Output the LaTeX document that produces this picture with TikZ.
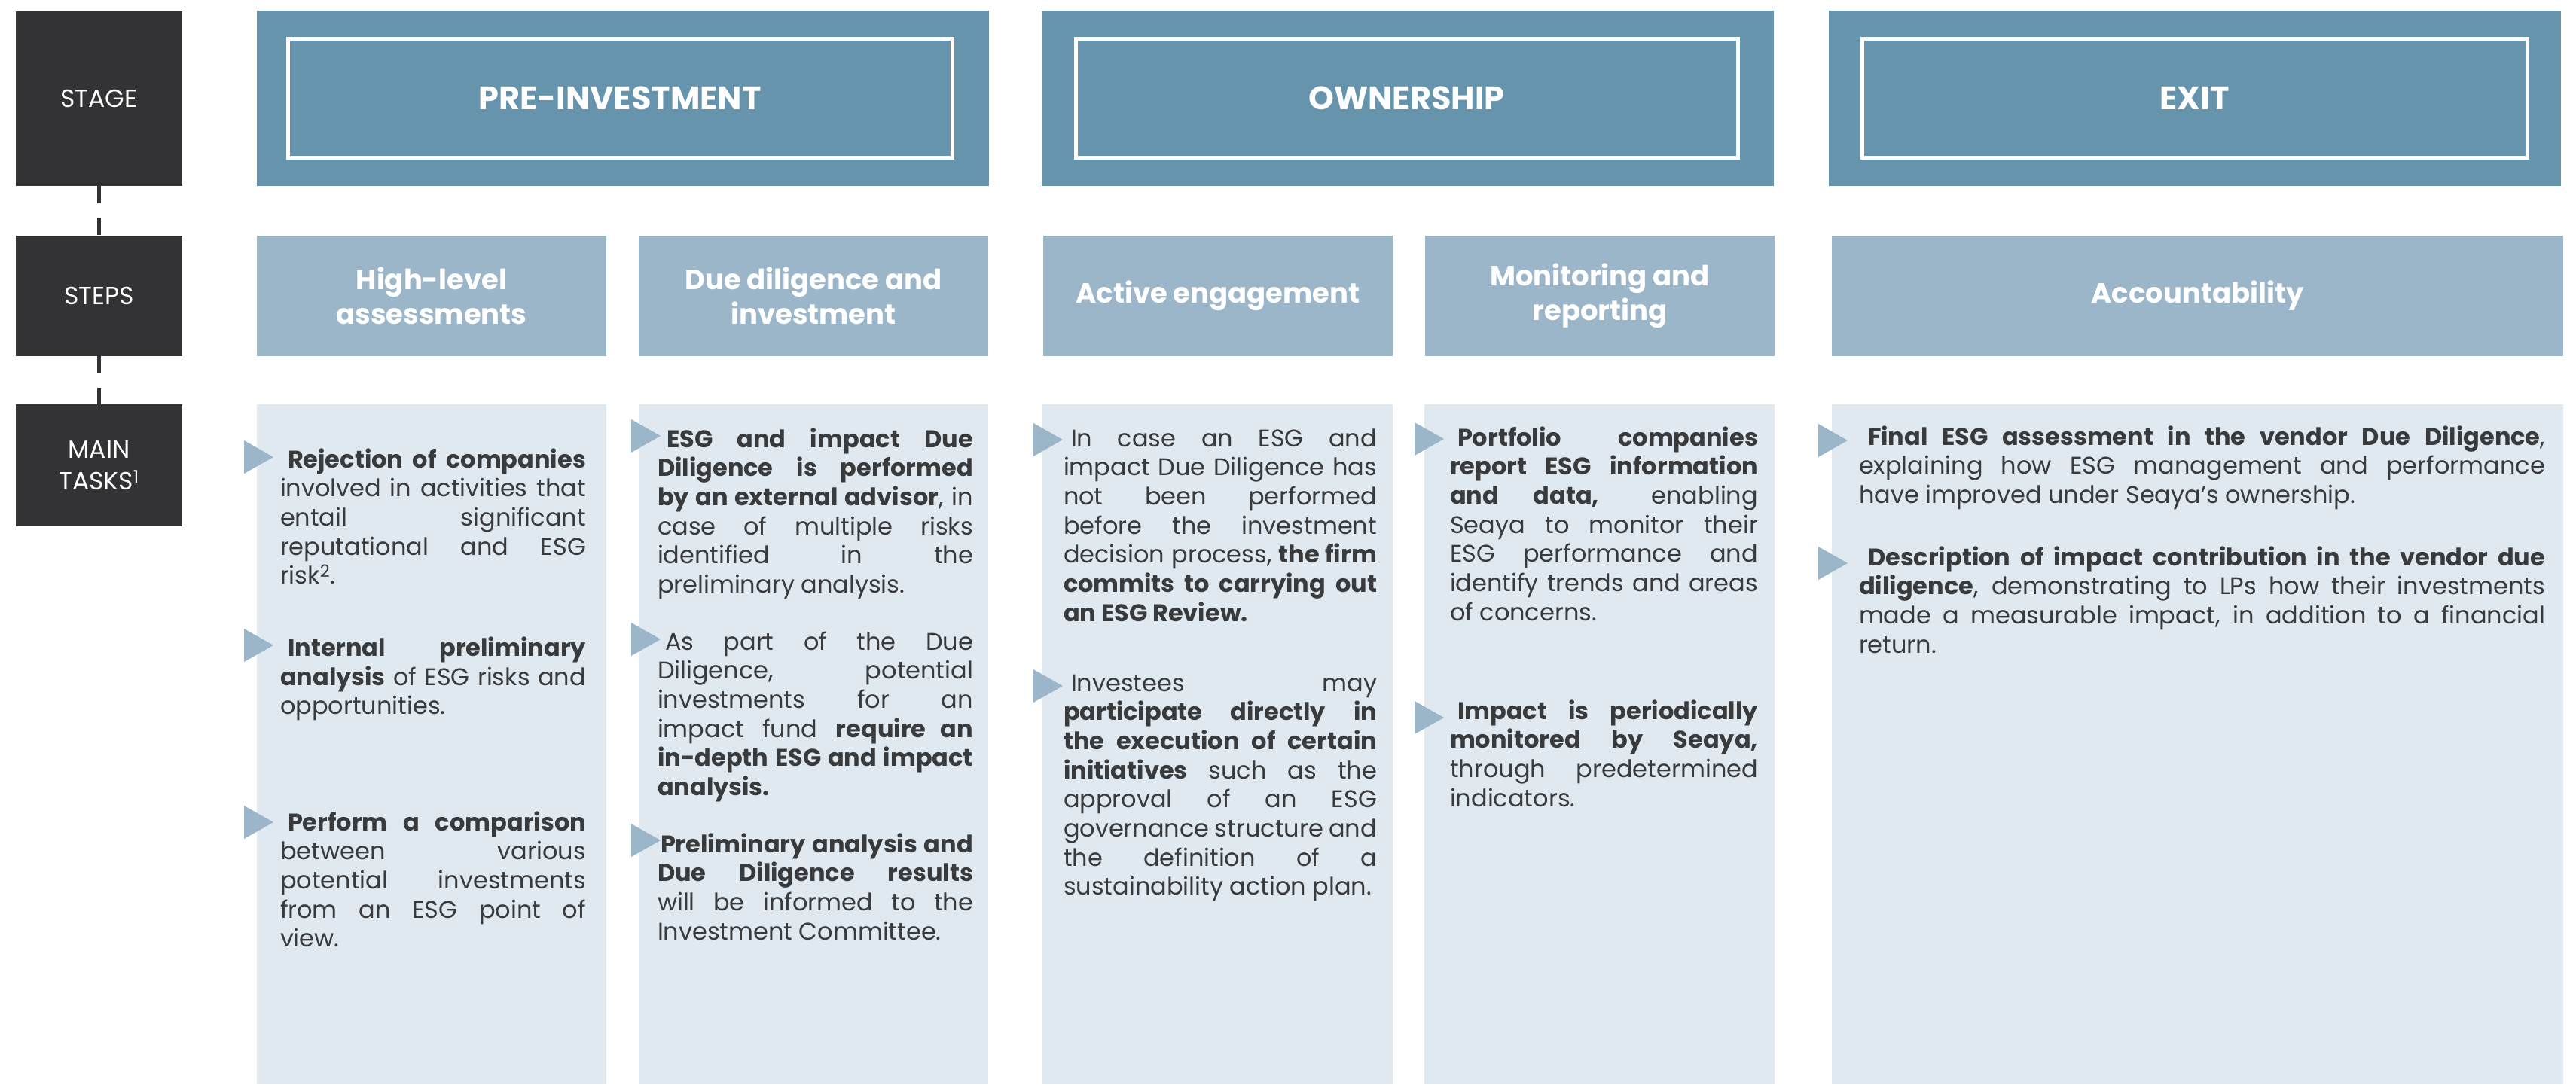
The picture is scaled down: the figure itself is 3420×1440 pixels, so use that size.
\documentclass[tikz,border=0pt]{standalone}
\usepackage{fontspec}
\setmainfont{Poppins}
\definecolor{darkbox}{RGB}{51,51,53}
\definecolor{stageblue}{RGB}{102,148,173}
\definecolor{stepblue}{RGB}{155,181,201}
\definecolor{panelbg}{RGB}{224,232,240}
\definecolor{textgray}{RGB}{56,58,60}
% right-pointing bullet triangle: left edge x, centre y
\newcommand\bulletmark[2]{\fill[bullet] (#1,#2-22) -- ++(39,22) -- ++(-39,22) -- cycle;}
\begin{document}
\begin{tikzpicture}[x=1pt,y=-1pt,
  blk/.style={rectangle, inner sep=0pt, outer sep=0pt},
  sidebox/.style={blk, fill=darkbox, text=white, align=center, font=\fontsize{33}{42}\selectfont},
  stagebox/.style={blk, fill=stageblue},
  stageframe/.style={blk, draw=white, line width=5pt, text=white, font=\fontsize{43}{50}\selectfont\bfseries},
  stepbox/.style={blk, fill=stepblue, text=white, align=center, font=\fontsize{37}{46}\selectfont\bfseries},
  panel/.style={blk, fill=panelbg},
  body/.style={inner sep=0pt, outer sep=0pt, anchor=base west, align=justify, text=textgray,
    font=\fontsize{32}{38.7}\selectfont,
    execute at begin node={\tolerance=10000 \hbadness=10000 \hyphenpenalty=10000 \exhyphenpenalty=10000 }},
  bullet/.style={fill=stepblue},
  link/.style={draw=darkbox, line width=5pt, dash pattern=on 23pt off 19pt}
]
\fill[white] (0,0) rectangle (3420,1440);
\useasboundingbox (0,0) rectangle (3420,1440);

% row labels
\node[sidebox, minimum width=221pt, minimum height=232pt] (lstage) at (131.5,131) {STAGE};
\node[sidebox, minimum width=221pt, minimum height=160pt] (lsteps) at (131.5,393) {STEPS};
\node[sidebox, minimum width=221pt, minimum height=162pt] (ltasks) at (131.5,618) {MAIN\\TASKS\textsuperscript{1}};
\draw[link] (lstage.south) -- (lsteps.north);
\draw[link] (lsteps.south) -- (ltasks.north);

% stages
\node[stagebox, minimum width=972pt, minimum height=233pt] (spre) at (827,130.5) {};
\node[stageframe, minimum width=882pt, minimum height=158pt] (fpre) at (823,130) {PRE-INVESTMENT};
\node[stagebox, minimum width=972pt, minimum height=233pt] (sown) at (1869,130.5) {};
\node[stageframe, minimum width=879pt, minimum height=158pt] (fown) at (1867.5,130) {OWNERSHIP};
\node[stagebox, minimum width=972pt, minimum height=233pt] (sexit) at (2914,130.5) {};
\node[stageframe, minimum width=883pt, minimum height=158pt] (fexit) at (2913.5,130) {EXIT};

% steps
\node[stepbox, minimum width=464pt, minimum height=160pt] (hl) at (573,393) {High-level\\assessments};
\node[stepbox, minimum width=464pt, minimum height=160pt] (dd) at (1080,393) {Due diligence and\\investment};
\node[stepbox, minimum width=464pt, minimum height=160pt] (ae) at (1617,393) {Active engagement};
\node[stepbox, minimum width=464pt, minimum height=160pt] (mr) at (2124,393) {Monitoring and\\reporting};
\node[stepbox, minimum width=971pt, minimum height=160pt] (acc) at (2917.5,393) {Accountability};

% task panels
\node[panel, minimum width=464pt, minimum height=903pt] (phl) at (573,988.5) {};
\node[panel, minimum width=464pt, minimum height=903pt] (pdd) at (1080,988.5) {};
\node[panel, minimum width=465pt, minimum height=903pt] (pae) at (1616,988.5) {};
\node[panel, minimum width=465pt, minimum height=903pt] (pmr) at (2123.5,988.5) {};
\node[panel, minimum width=971pt, minimum height=903pt] (pacc) at (2917.5,988.5) {};

% bullets
\bulletmark{324}{607} \bulletmark{324}{857} \bulletmark{324}{1092}
\bulletmark{838}{579} \bulletmark{838}{849} \bulletmark{838}{1116}
\bulletmark{1372}{584} \bulletmark{1372}{911}
\bulletmark{1878}{583} \bulletmark{1878}{953}
\bulletmark{2414}{585} \bulletmark{2414}{748}

% high-level assessments
\node[body, text width=406pt] (hl1) at (372,621) {\hspace*{10pt}\textbf{Rejection of companies}\linebreak involved in activities that\linebreak entail significant\linebreak reputational and ESG\linebreak risk\textsuperscript{2}.};
\node[body, text width=406pt] (hl2) at (372,871.5) {\hspace*{10pt}\textbf{Internal preliminary\linebreak analysis} of ESG risks and\linebreak opportunities.};
\node[body, text width=406pt] (hl3) at (372,1103) {\hspace*{10pt}\textbf{Perform a comparison}\linebreak between various\linebreak potential investments\linebreak from an ESG point of\linebreak view.};

% due diligence and investment
\node[body, text width=419pt] (dd1) at (873,594) {\hspace*{12pt}\textbf{ESG and impact Due\linebreak Diligence is performed\linebreak by an external advisor}, in\linebreak case of multiple risks\linebreak identified in the\linebreak preliminary analysis.};
\node[body, text width=419pt] (dd2) at (873,863) {\hspace*{10pt}As part of the Due\linebreak Diligence, potential\linebreak investments for an\linebreak impact fund \textbf{require an\linebreak in-depth ESG and impact\linebreak analysis.}};
\node[body, text width=419pt] (dd3) at (873,1132) {\hspace*{4pt}\textbf{Preliminary analysis and\linebreak Due Diligence results}\linebreak will be informed to the\linebreak Investment Committee.};

% active engagement
\node[body, text width=416pt] (ae1) at (1412,593) {\hspace*{10pt}In case an ESG and\linebreak impact Due Diligence has\linebreak not been performed\linebreak before the investment\linebreak decision process, \textbf{the firm\linebreak commits to carrying out\linebreak an ESG Review.}};
\node[body, text width=416pt] (ae2) at (1412,918) {\hspace*{10pt}Investees may\linebreak \textbf{participate directly in\linebreak the execution of certain\linebreak initiatives} such as the\linebreak approval of an ESG\linebreak governance structure and\linebreak the definition of a\linebreak sustainability action plan.};

% monitoring and reporting
\node[body, text width=409pt] (mr1) at (1925,592) {\hspace*{10pt}\textbf{Portfolio companies\linebreak report ESG information\linebreak and data,} enabling\linebreak Seaya to monitor their\linebreak ESG performance and\linebreak identify trends and areas\linebreak of concerns.};
\node[body, text width=409pt] (mr2) at (1925,955) {\hspace*{10pt}\textbf{Impact is periodically\linebreak monitored by Seaya,}\linebreak through predetermined\linebreak indicators.};

% accountability
\node[body, text width=911pt] (acc1) at (2468,591) {\hspace*{12pt}\textbf{Final ESG assessment in the vendor Due Diligence},\linebreak explaining how ESG management and performance\linebreak have improved under Seaya’s ownership.};
\node[body, text width=911pt] (acc2) at (2468,751) {\hspace*{12pt}\textbf{Description of impact contribution in the vendor due\linebreak diligence}, demonstrating to LPs how their investments\linebreak made a measurable impact, in addition to a financial\linebreak return.};
\end{tikzpicture}
\end{document}
